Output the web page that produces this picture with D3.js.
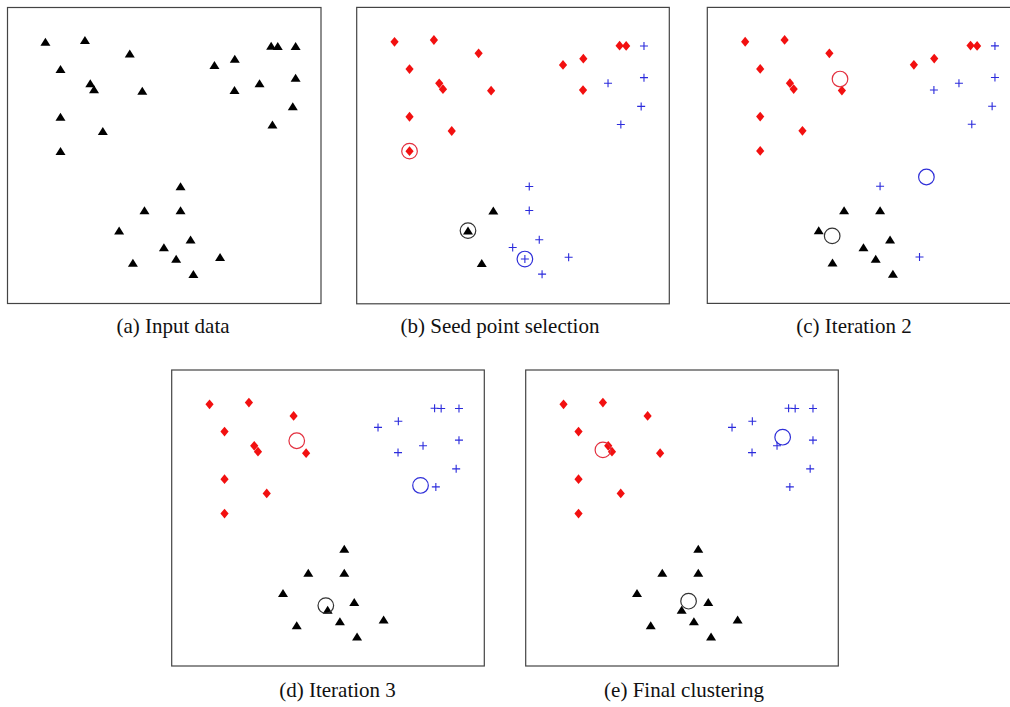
<!DOCTYPE html>
<html>
<head>
<meta charset="utf-8">
<script src="https://cdn.jsdelivr.net/npm/d3@7"></script>
<style>
  body { margin: 0; background: #fff; }
  svg { display: block; }
  .caption { font-family: "Liberation Serif", "Times New Roman", serif; font-size: 21px; fill: #111; }
</style>
</head>
<body>
<div id="chart"></div>
<script>
// point coordinates (same 30 points in every panel), data units 0..10
const xs = [1.21, 2.47, 3.90, 1.69, 2.64, 2.76, 4.30, 1.69, 3.04, 1.69,
            6.60, 7.25, 8.41, 8.62, 9.19, 7.24, 8.04, 9.19, 9.10, 8.45,
            5.52, 4.37, 5.52, 3.56, 5.84, 4.99, 5.38, 6.78, 4.00, 5.93];
const ys = [8.84, 8.90, 8.45, 7.92, 7.44, 7.24, 7.19, 6.31, 5.83, 5.15,
            8.06, 8.27, 8.71, 8.70, 8.70, 7.21, 7.44, 7.63, 6.66, 6.05,
            3.96, 3.15, 3.15, 2.47, 2.16, 1.90, 1.51, 1.57, 1.38, 1.00];

// cluster label of each point per panel: r = red diamond, b = blue plus, k = black triangle
const labelsA = "kkkkkkkkkkkkkkkkkkkkkkkkkkkkkk".split("");
const labelsB = "rrrrrrrrrrrrrrbrbbbbbkbkbbbbkb".split("");
const labelsC = "rrrrrrrrrrrrrrbbbbbbbkkkkkkbkk".split("");
const labelsD = "rrrrrrrrrrbbbbbbbbbbkkkkkkkkkk".split("");
const labelsE = labelsD;

// seed points (indices into xs/ys) for panel (b)
const seeds = [{ c: "r", i: 9 }, { c: "k", i: 23 }, { c: "b", i: 26 }];

// centroids for panels (c), (d), (e)
const centroidsC = [{ c: "r", x: 4.24, y: 7.58 }, { c: "b", x: 7.00, y: 4.27 }, { c: "k", x: 3.99, y: 2.28 }];
const centroidsD = [{ c: "r", x: 4.00, y: 7.61 }, { c: "b", x: 7.96, y: 6.10 }, { c: "k", x: 4.93, y: 2.04 }];
const centroidsE = [{ c: "r", x: 2.47, y: 7.30 }, { c: "b", x: 8.22, y: 7.73 }, { c: "k", x: 5.21, y: 2.19 }];

const captions = ["(a) Input data", "(b) Seed point selection", "(c) Iteration 2", "(d) Iteration 3", "(e) Final clustering"];

// panel layout
const panels = [
  { cap: captions[0], labels: labelsA, centers: [], left: 7.5, top: 7.5, w: 313.5, h: 296, cx: 173, cy: 333 },
  { cap: captions[1], labels: labelsB, centers: seeds.map(s => ({ c: s.c, x: xs[s.i], y: ys[s.i] })), left: 356.7, top: 7.4, w: 312.6, h: 296.4, cx: 500, cy: 333 },
  { cap: captions[2], labels: labelsC, centers: centroidsC, left: 707.3, top: 7.4, w: 313, h: 296, cx: 854, cy: 333 },
  { cap: captions[3], labels: labelsD, centers: centroidsD, left: 171.7, top: 370, w: 312.6, h: 296, cx: 337.5, cy: 697 },
  { cap: captions[4], labels: labelsE, centers: centroidsE, left: 525.7, top: 370, w: 312.6, h: 296, cx: 684, cy: 697 }
];

const markerColor = { r: "#f21010", b: "#2b2bdc", k: "#000" };
const ringColor = { r: "#e3303f", b: "#2f2fd8", k: "#333" };

const width = 1010, height = 707;

const svg = d3.select("#chart").append("svg")
  .attr("width", width)
  .attr("height", height);

svg.append("rect").attr("width", width).attr("height", height).attr("fill", "#fff");

panels.forEach(p => {
  const x = d3.scaleLinear().domain([0, 10]).range([p.left, p.left + p.w]);
  const y = d3.scaleLinear().domain([0, 10]).range([p.top + p.h, p.top]);

  const g = svg.append("g");

  g.append("rect")   // axes box
    .attr("x", p.left)
    .attr("y", p.top)
    .attr("width", p.w)
    .attr("height", p.h)
    .attr("fill", "none")
    .attr("stroke", "#444")
    .attr("stroke-width", 1.2);

  const pts = xs.map((d, i) => ({ x: d, y: ys[i], c: p.labels[i] }));

  g.selectAll("path.pt")
    .data(pts)
    .join("path")
    .attr("class", "pt")
    .attr("transform", d => `translate(${x(d.x)},${y(d.y)})`)
    .attr("d", d => {
      if (d.c === "r") return "M0,-4.9L4.1,0L0,4.9L-4.1,0Z";
      if (d.c === "b") return "M-4,0H4M0,-4V4";
      return "M0,-4L5,4L-5,4Z";
    })
    .attr("fill", d => d.c === "b" ? "none" : markerColor[d.c])
    .attr("stroke", d => d.c === "b" ? markerColor[d.c] : "none")
    .attr("stroke-width", 1.1);

  g.selectAll("circle.ctr")
    .data(p.centers)
    .join("circle")
    .attr("class", "ctr")
    .attr("cx", d => x(d.x))
    .attr("cy", d => y(d.y))
    .attr("r", 7.8)
    .attr("fill", "none")
    .attr("stroke", d => ringColor[d.c])
    .attr("stroke-width", 1.2);

  g.append("text")
    .attr("class", "caption")
    .attr("x", p.cx)
    .attr("y", p.cy)
    .attr("text-anchor", "middle")
    .text(p.cap);
});
</script>
</body>
</html>
